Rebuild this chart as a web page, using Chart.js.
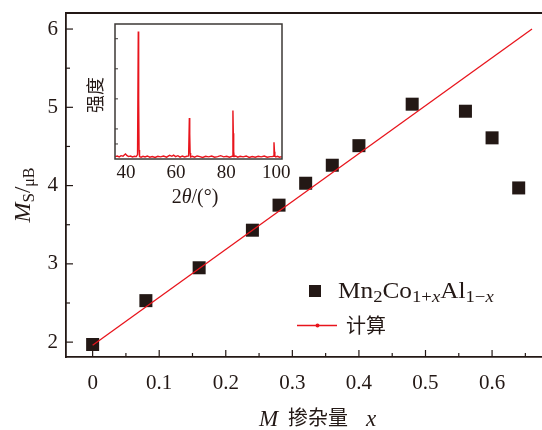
<!DOCTYPE html>
<html>
<head>
<meta charset="utf-8">
<script src="https://cdn.jsdelivr.net/npm/chart.js@4"></script>
<style>
  html, body { margin: 0; padding: 0; background: #fff; }
  #wrap { position: relative; width: 542px; height: 430px; }
  #main { position: absolute; left: 0; top: 0; }
  #inset { position: absolute; left: 85px; top: 20px; }
</style>
</head>
<body>
<div id="wrap">
  <canvas id="main" width="542" height="430"></canvas>
  <canvas id="inset" width="205" height="190"></canvas>
</div>
<script>
// ============================================
// DATA
// ============================================

// measured saturation moment vs doping x
const dopingX = [0, 0.08, 0.16, 0.24, 0.28, 0.32, 0.36, 0.40, 0.48, 0.56, 0.60, 0.64];
const momentMs = [1.97, 2.53, 2.95, 3.43, 3.75, 4.03, 4.26, 4.51, 5.04, 4.95, 4.61, 3.97];

// calculated line
const calcX = [0, 0.66];
const calcMs = [1.96, 6.0];

// main axis ticks
const xMajor = [0, 0.1, 0.2, 0.3, 0.4, 0.5, 0.6];
const xTickLabels = ['0', '0.1', '0.2', '0.3', '0.4', '0.5', '0.6'];
const xMinor = [0.05, 0.15, 0.25, 0.35, 0.45, 0.55, 0.65];
const yMajor = [2, 3, 4, 5, 6];
const yTickLabels = ['2', '3', '4', '5', '6'];
const yMinor = [2.5, 3.5, 4.5, 5.5];

// inset XRD pattern
const xrdAngle = [
    35.7, 36.5, 37.3, 38.0, 38.8, 39.4, 39.8, 40.3, 41.0, 41.8, 42.6, 43.4, 44.1, 44.6,
    44.9, 45.05, 45.2, 45.4, 46.0, 46.8, 47.6, 48.5, 49.5, 50.5, 51.6, 52.7, 53.8, 55.0,
    56.2, 57.4, 58.3, 59.0, 59.8, 60.7, 61.6, 62.5, 63.4, 64.3, 65.0, 65.3, 65.45, 65.6,
    65.8, 66.5, 67.4, 68.4, 69.5, 70.6, 71.8, 73.0, 74.2, 75.4, 76.6, 77.8, 79.0, 80.2,
    81.3, 82.4, 82.7, 82.85, 83.0, 83.2, 83.8, 84.6, 85.6, 86.8, 88.0, 89.2, 90.4, 91.6,
    92.8, 94.0, 95.2, 96.4, 97.6, 98.4, 98.8, 99.1, 99.3, 99.45, 99.8, 100.5, 101.3, 102.2
];
const xrdIntensity = [
    0.08, 0.10, 0.07, 0.11, 0.09, 0.14, 0.17, 0.12, 0.08, 0.10, 0.07, 0.09, 0.08, 0.15,
    4.24, 2.00, 0.30, 0.08, 0.06, 0.09, 0.07, 0.10, 0.06, 0.08, 0.05, 0.09, 0.07, 0.10,
    0.06, 0.12, 0.09, 0.13, 0.08, 0.11, 0.06, 0.10, 0.07, 0.09, 0.10, 1.36, 0.83, 0.20,
    0.07, 0.09, 0.06, 0.10, 0.08, 0.05, 0.09, 0.07, 0.10, 0.06, 0.08, 0.11, 0.07, 0.09,
    0.06, 0.09, 1.61, 0.86, 0.25, 0.08, 0.10, 0.06, 0.09, 0.07, 0.10, 0.05, 0.08, 0.06,
    0.09, 0.07, 0.10, 0.06, 0.08, 0.08, 0.09, 0.56, 0.24, 0.10, 0.07, 0.09, 0.06, 0.08
];
const insetXTicks = [40, 60, 80, 100];
const insetYTicks = [0.5, 1, 2, 3, 4];

// ============================================
// STYLE
// ============================================

const INK = '#231815';
const RED = '#e8141c';
const SERIF = '"Liberation Serif", "Times New Roman", serif';
const CJK = '"Noto Sans CJK SC", sans-serif';

function line(ctx, x1, y1, x2, y2) {
    ctx.beginPath();
    ctx.moveTo(x1, y1);
    ctx.lineTo(x2, y2);
    ctx.stroke();
}

function runsWidth(ctx, runs) {
    let w = 0;
    for (const [t, font] of runs) {
        ctx.font = font;
        w += ctx.measureText(t).width;
    }
    return w;
}

// draw text runs [text, font, dy] starting at x
function drawRuns(ctx, x, y, runs) {
    let cx = x;
    for (const [t, font, dy] of runs) {
        ctx.font = font;
        ctx.fillText(t, cx, y + (dy || 0));
        cx += ctx.measureText(t).width;
    }
}

// keep the plot area exactly where the scales are told to be
function noPadding(scale) {
    scale.paddingLeft = 0;
    scale.paddingRight = 0;
    scale.paddingTop = 0;
    scale.paddingBottom = 0;
}

// ============================================
// MAIN CHART
// ============================================

const mainDecor = {
    id: 'mainDecor',
    afterDraw(chart) {
        const { ctx, chartArea: a, scales: { x, y } } = chart;
        ctx.save();
        ctx.strokeStyle = INK;
        ctx.fillStyle = INK;

        // top frame
        ctx.lineWidth = 1.8;
        line(ctx, a.left, a.top, a.right, a.top);

        // inward ticks
        ctx.lineWidth = 1.2;
        xMajor.forEach(v => {
            const px = x.getPixelForValue(v);
            line(ctx, px, a.bottom, px, a.bottom - 7);
        });
        xMinor.forEach(v => {
            const px = x.getPixelForValue(v);
            line(ctx, px, a.bottom, px, a.bottom - 4);
        });
        yMajor.forEach(v => {
            const py = y.getPixelForValue(v);
            line(ctx, a.left, py, a.left + 7, py);
        });
        yMinor.forEach(v => {
            const py = y.getPixelForValue(v);
            line(ctx, a.left, py, a.left + 4, py);
        });

        // x title
        ctx.textBaseline = 'alphabetic';
        ctx.textAlign = 'left';
        ctx.font = `italic 23px ${SERIF}`;
        ctx.fillText('M', 259, 426);
        ctx.font = `20px ${CJK}`;
        ctx.fillText('掺杂量', 288, 425);
        ctx.font = `italic 23px ${SERIF}`;
        ctx.fillText('x', 366, 426);

        // y title
        const yRuns = [
            ['M', `italic 24px ${SERIF}`, 0],
            ['S', `17px ${SERIF}`, 4],
            ['/', `23px ${SERIF}`, 0],
            ['μB', `16px ${SERIF}`, 4]
        ];
        ctx.save();
        ctx.translate(30, 195);
        ctx.rotate(-Math.PI / 2);
        drawRuns(ctx, -runsWidth(ctx, yRuns) / 2, 0, yRuns);
        ctx.restore();

        // legend
        const big = `23px ${SERIF}`;
        const sub = `17px ${SERIF}`;
        const subIt = `italic 17px ${SERIF}`;
        ctx.fillRect(309, 285, 12, 12);
        ctx.save();
        ctx.translate(338, 297.5);
        ctx.scale(1.1, 1);
        drawRuns(ctx, 0, 0, [
            ['Mn', big, 0], ['2', sub, 4], ['Co', big, 0], ['1+', sub, 4], ['x', subIt, 4],
            ['Al', big, 0], ['1−', sub, 4], ['x', subIt, 4]
        ]);
        ctx.restore();

        ctx.strokeStyle = RED;
        ctx.fillStyle = RED;
        ctx.lineWidth = 1.3;
        line(ctx, 297, 325.5, 337, 325.5);
        ctx.beginPath();
        ctx.arc(317.5, 325.5, 2, 0, Math.PI * 2);
        ctx.fill();
        ctx.fillStyle = INK;
        ctx.font = `20px ${CJK}`;
        ctx.textBaseline = 'middle';
        ctx.fillText('计算', 346, 325);

        ctx.restore();
    }
};

new Chart(document.getElementById('main'), {
    type: 'scatter',
    data: {
        datasets: [
            {
                label: '计算',
                data: calcX.map((v, i) => ({ x: v, y: calcMs[i] })),
                showLine: true,
                borderColor: RED,
                borderWidth: 1.3,
                pointRadius: 0,
                tension: 0
            },
            {
                label: 'Mn2Co1+xAl1-x',
                data: dopingX.map((v, i) => ({ x: v, y: momentMs[i] })),
                pointStyle: 'rect',
                pointRadius: 9.2,
                backgroundColor: INK,
                borderColor: INK,
                borderWidth: 0
            }
        ]
    },
    options: {
        responsive: false,
        animation: false,
        layout: {
            autoPadding: false,
            padding: { top: 13, right: 0, left: 0, bottom: 0 }
        },
        plugins: {
            legend: { display: false },
            tooltip: { enabled: false }
        },
        scales: {
            x: {
                type: 'linear',
                min: -0.04,
                max: 0.675,
                grid: { display: false, drawTicks: false },
                border: { color: INK, width: 1.8 },
                afterBuildTicks(scale) {
                    scale.ticks = xMajor.map(v => ({ value: v }));
                },
                afterFit(scale) {
                    scale.height = 73;
                    noPadding(scale);
                },
                ticks: {
                    color: INK,
                    padding: 14,
                    maxRotation: 0,
                    autoSkip: false,
                    font: { family: SERIF, size: 21 },
                    callback: (value, index) => xTickLabels[index]
                }
            },
            y: {
                type: 'linear',
                min: 1.81,
                max: 6.205,
                grid: { display: false, drawTicks: false },
                border: { color: INK, width: 1.8 },
                afterBuildTicks(scale) {
                    scale.ticks = yMajor.map(v => ({ value: v }));
                },
                afterFit(scale) {
                    scale.width = 66;
                    noPadding(scale);
                },
                ticks: {
                    color: INK,
                    padding: 8,
                    autoSkip: false,
                    font: { family: SERIF, size: 21 },
                    callback: (value, index) => yTickLabels[index]
                }
            }
        }
    },
    plugins: [mainDecor]
});

// ============================================
// INSET (XRD)
// ============================================

const insetDecor = {
    id: 'insetDecor',
    afterDraw(chart) {
        const { ctx, chartArea: a, scales: { y } } = chart;
        ctx.save();
        ctx.strokeStyle = '#3c3836';
        ctx.lineWidth = 1.5;
        ctx.strokeRect(a.left, a.top, a.right - a.left, a.bottom - a.top);

        ctx.lineWidth = 1;
        insetYTicks.forEach(v => {
            const py = y.getPixelForValue(v);
            line(ctx, a.left, py, a.left + 3, py);
        });

        ctx.fillStyle = INK;
        // y title
        ctx.save();
        ctx.translate(10, 75);
        ctx.rotate(-Math.PI / 2);
        ctx.font = `18px ${CJK}`;
        ctx.textAlign = 'center';
        ctx.textBaseline = 'middle';
        ctx.fillText('强度', 0, 0);
        ctx.restore();

        // x title
        const runs = [
            ['2', `20px ${SERIF}`, 0],
            ['θ', `italic 20px ${SERIF}`, 0],
            ['/(°)', `20px ${SERIF}`, 0]
        ];
        ctx.textBaseline = 'alphabetic';
        drawRuns(ctx, 110 - runsWidth(ctx, runs) / 2, 183, runs);
        ctx.restore();
    }
};

new Chart(document.getElementById('inset'), {
    type: 'scatter',
    data: {
        datasets: [
            {
                label: 'XRD',
                data: xrdAngle.map((v, i) => ({ x: v, y: xrdIntensity[i] })),
                showLine: true,
                borderColor: RED,
                borderWidth: 1.4,
                pointRadius: 0,
                tension: 0
            }
        ]
    },
    options: {
        responsive: false,
        animation: false,
        layout: {
            autoPadding: false,
            padding: { top: 4, right: 8, left: 0, bottom: 0 }
        },
        plugins: {
            legend: { display: false },
            tooltip: { enabled: false }
        },
        scales: {
            x: {
                type: 'linear',
                min: 35.6,
                max: 102.3,
                grid: { display: false, drawTicks: false },
                border: { display: false },
                afterBuildTicks(scale) {
                    scale.ticks = insetXTicks.map(v => ({ value: v }));
                },
                afterFit(scale) {
                    scale.height = 51;
                    noPadding(scale);
                },
                ticks: {
                    color: INK,
                    padding: 3,
                    maxRotation: 0,
                    autoSkip: false,
                    font: { family: SERIF, size: 19 }
                }
            },
            y: {
                type: 'linear',
                min: 0,
                max: 4.49,
                grid: { display: false, drawTicks: false },
                border: { display: false },
                afterFit(scale) {
                    scale.width = 30;
                    noPadding(scale);
                },
                ticks: { display: false }
            }
        }
    },
    plugins: [insetDecor]
});
</script>
</body>
</html>
